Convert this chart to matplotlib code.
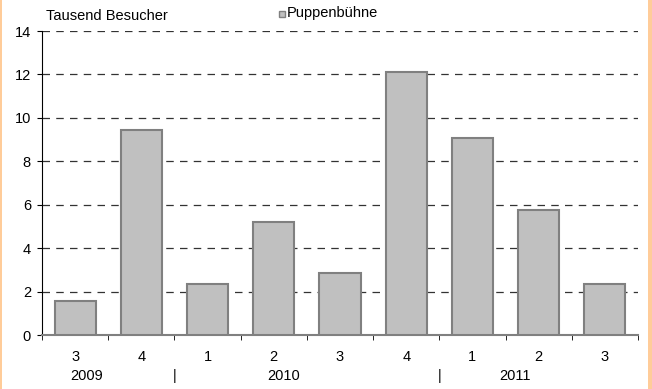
import numpy as np
import matplotlib.pyplot as plt
from matplotlib.patches import Rectangle
from matplotlib.transforms import blended_transform_factory

plt.rcParams['font.family'] = ['Liberation Sans', 'DejaVu Sans']

quarters = ['3', '4', '1', '2', '3', '4', '1', '2', '3']
besucher = [1.55, 9.45, 2.35, 5.2, 2.85, 12.1, 9.05, 5.75, 2.35]
years = ['2009', '|', '2010', '|', '2011']
year_pos = [0.17, 1.5, 3.15, 5.5, 6.65]

fs = 10.5
fs_tick = 10.5

fig = plt.figure(figsize=(6.52, 3.89), dpi=100)
ax = fig.add_axes([0.0644, 0.1388, 0.9141, 0.7815])

x = np.arange(len(besucher))
ax.bar(x, besucher, width=0.62, color='#C0C0C0', edgecolor='#808080', linewidth=1.5, zorder=3)

ax.set_xlim(-0.5, len(besucher) - 0.5)
ax.set_ylim(0, 14)
ax.set_yticks(np.arange(0, 15, 2))
ax.yaxis.grid(True, linestyle=(0, (6, 5)), color='#333333', linewidth=0.9)
ax.set_axisbelow(True)

ax.set_xticks(x)
ax.set_xticklabels(quarters, fontsize=fs_tick)
ax.set_xticks(np.arange(-0.5, len(besucher), 1), minor=True)
ax.tick_params(axis='x', which='major', length=0, pad=11)
ax.tick_params(axis='x', which='minor', length=3.5, direction='out', color='black')
ax.tick_params(axis='y', length=3.5, direction='out', labelsize=fs_tick, pad=4.5)

for s in ['top', 'right']:
    ax.spines[s].set_visible(False)
ax.spines['bottom'].set_color('#808080')
ax.spines['bottom'].set_linewidth(1.5)
ax.spines['left'].set_color('black')

tr = blended_transform_factory(ax.transData, fig.transFigure)
for yr, p in zip(years, year_pos):
    ax.text(p, 1 - 376 / 389, yr, transform=tr, ha='center', va='center', fontsize=fs_tick)

fig.text(46 / 652, 1 - 16 / 389, 'Tausend Besucher', fontsize=fs, ha='left', va='center')
fig.patches.append(Rectangle((279 / 652, 1 - 17 / 389), 6 / 652, 6 / 389,
                             transform=fig.transFigure, facecolor='#C0C0C0',
                             edgecolor='#808080', linewidth=1))
fig.text(287 / 652, 1 - 13.5 / 389, 'Puppenbühne', fontsize=fs, ha='left', va='center')

# orange frame at the edges
fig.patches.append(Rectangle((0, 0), 2 / 652, 1, transform=fig.transFigure,
                             facecolor='#FFCC99', edgecolor='none'))
fig.patches.append(Rectangle((648 / 652, 0), 4 / 652, 1, transform=fig.transFigure,
                             facecolor='#FFCC99', edgecolor='none'))

plt.savefig('out.png', dpi=100)
